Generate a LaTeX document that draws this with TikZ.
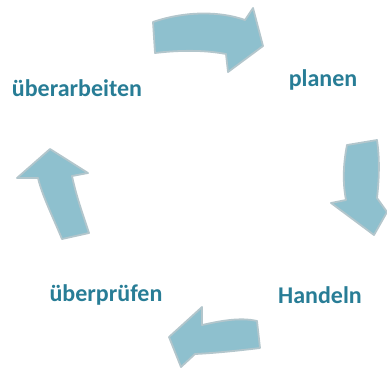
\documentclass[tikz,border=0pt]{standalone}
\usepackage{fontspec}
\setmainfont{Carlito}
\definecolor{arrowfill}{HTML}{8EC0CE}
\definecolor{arrowedge}{HTML}{B3C6CC}
\definecolor{labeltext}{HTML}{287D96}
\begin{document}
\begin{tikzpicture}[x=1pt,y=-1pt,
  cyclearrow/.style={fill=arrowfill,draw=arrowedge,line width=1.8pt,line join=round},
  steplabel/.style={text=labeltext,font=\bfseries\fontsize{24}{26}\selectfont,inner sep=0pt}]
\useasboundingbox (0,0) rectangle (387,370);
% top arrow
\path[cyclearrow] (153,22) .. controls (185,11) and (220,11) .. (245,20) -- (253,8) -- (263,46) -- (228,72) -- (226,54) .. controls (205,50) and (180,50) .. (155,53) -- cycle;
% right arrow
\path[cyclearrow] (347,145) -- (377,140) .. controls (380,160) and (379,180) .. (377,198) -- (387,212) -- (374,235) -- (331,203) -- (346,200) .. controls (342,180) and (344,160) .. (347,145) -- cycle;
% bottom arrow
\path[cyclearrow] (257,321) -- (260,348) .. controls (235,351) and (215,353) .. (195,354) -- (181,367) -- (169,337) -- (202,307) -- (202,325) .. controls (220,321) and (240,317) .. (257,321) -- cycle;
% left arrow
\path[cyclearrow] (50,149) -- (88,173) -- (72,176) .. controls (76,195) and (82,212) .. (89,233) -- (62,239) .. controls (52,215) and (42,195) .. (38,178) -- (17,178) -- cycle;
% labels
\node[steplabel] (plan) at (323,80) {planen};
\node[steplabel] (act) at (320,295) {Handeln};
\node[steplabel] (check) at (106,295) {überprüfen};
\node[steplabel] (rev) at (77,88) {überarbeiten};
\end{tikzpicture}
\end{document}
